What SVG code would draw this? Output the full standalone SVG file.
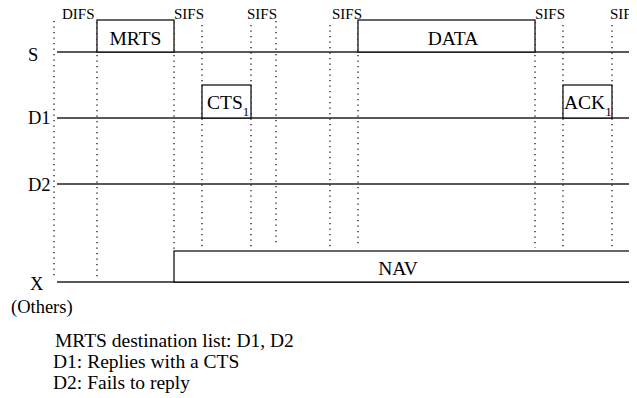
<svg xmlns="http://www.w3.org/2000/svg" width="637" height="398" viewBox="0 0 637 398">
<style>
text{font-family:"Liberation Serif","Times New Roman",serif;fill:#000}
.lbl{font-size:18.5px}
.box{font-size:19.5px}
.ifs{font-size:15px}
.note{font-size:19.5px}
.sub{font-size:13px}
.frame{fill:#fff;stroke:#000;stroke-width:1.2}
.line{stroke:#222;stroke-width:1.3;fill:none}
.dot{stroke:#000;stroke-width:1.2;stroke-dasharray:1.3 4.2;fill:none}
</style>
<defs><clipPath id="crop"><rect x="0" y="0" width="629" height="398"/></clipPath></defs>
<rect width="637" height="398" fill="#fff"/>
<g clip-path="url(#crop)">
<g id="timelines">
<line class="line" x1="57" y1="52" x2="629" y2="52"/>
<line class="line" x1="57" y1="118" x2="629" y2="118"/>
<line class="line" x1="57" y1="184" x2="629" y2="184"/>
<line class="line" x1="57" y1="282" x2="629" y2="282"/>
</g>
<g id="connectors">
<line class="dot" x1="54" y1="21" x2="54" y2="279"/>
<line class="dot" x1="97" y1="22" x2="97" y2="279"/>
<line class="dot" x1="174" y1="22" x2="174" y2="251"/>
<line class="dot" x1="202" y1="25" x2="202" y2="250"/>
<line class="dot" x1="251" y1="25" x2="251" y2="248"/>
<line class="dot" x1="276" y1="21" x2="276" y2="246"/>
<line class="dot" x1="330" y1="25" x2="330" y2="249"/>
<line class="dot" x1="358" y1="22" x2="358" y2="247"/>
<line class="dot" x1="535" y1="22" x2="535" y2="248"/>
<line class="dot" x1="563" y1="25" x2="563" y2="248"/>
<line class="dot" x1="612" y1="25" x2="612" y2="247"/>
</g>
<g id="mrts"><rect class="frame" x="97" y="20" width="77" height="32"/><text class="box" x="135.5" y="45" text-anchor="middle">MRTS</text></g>
<g id="data"><rect class="frame" x="358" y="20" width="177" height="32"/><text class="box" x="453" y="45" text-anchor="middle">DATA</text></g>
<g id="cts1"><rect class="frame" x="202" y="85" width="49" height="33"/><text class="box" x="207" y="109">CTS<tspan class="sub" dy="7">1</tspan></text></g>
<g id="ack1"><rect class="frame" x="563" y="85" width="49" height="33"/><text class="box" x="564" y="109">ACK<tspan class="sub" dy="7">1</tspan></text></g>
<g id="nav"><rect class="frame" x="174" y="251" width="470" height="31"/><text class="box" x="398" y="275" text-anchor="middle">NAV</text></g>
<g id="ifs-labels">
<text class="ifs" x="62" y="19">DIFS</text>
<text class="ifs" x="174" y="19">SIFS</text>
<text class="ifs" x="247" y="19">SIFS</text>
<text class="ifs" x="332" y="19">SIFS</text>
<text class="ifs" x="535" y="19">SIFS</text>
<text class="ifs" x="610" y="19">SIFS</text>
</g>
</g>
<g id="station-labels">
<text class="lbl" x="28" y="61">S</text>
<text class="lbl" x="28" y="124">D1</text>
<text class="lbl" x="28" y="191">D2</text>
<text class="lbl" x="30" y="290">X</text>
<text class="lbl" x="11" y="313">(Others)</text>
</g>
<g id="notes">
<text class="note" x="55" y="347">MRTS destination list: D1, D2</text>
<text class="note" x="53" y="368">D1: Replies with a CTS</text>
<text class="note" x="53" y="389">D2: Fails to reply</text>
</g>
</svg>
